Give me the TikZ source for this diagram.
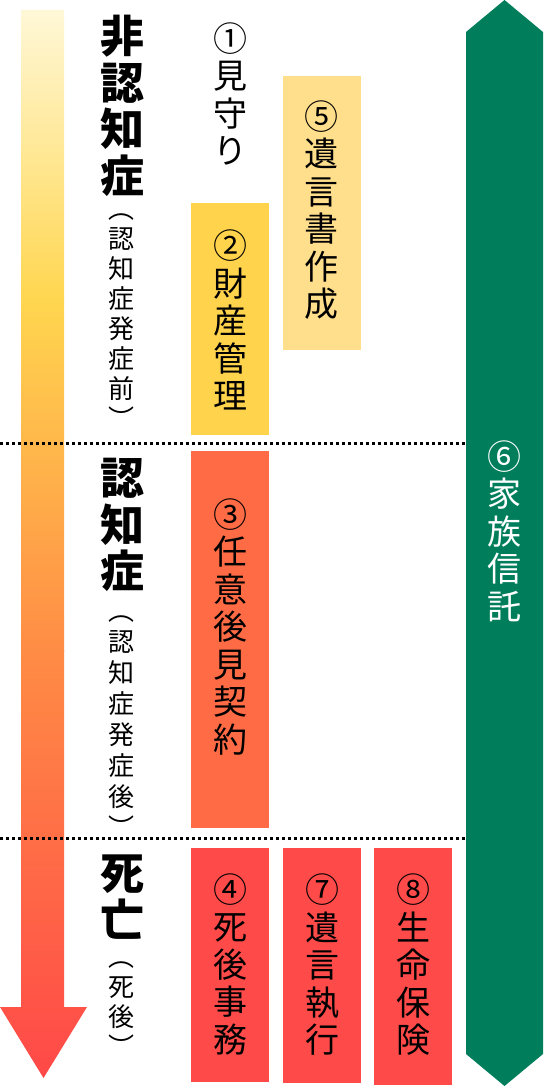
\documentclass[tikz,border=0pt]{standalone}
\usepackage{fontspec}
\newfontfamily\jp{Noto Sans CJK JP}
\definecolor{g0}{HTML}{FFF8D8}
\definecolor{g1}{HTML}{FFD64F}
\definecolor{g2}{HTML}{FF8C45}
\definecolor{g3}{HTML}{FF4848}
\definecolor{cTwo}{HTML}{FFD34B}
\definecolor{cFive}{HTML}{FFDF8C}
\definecolor{cThree}{HTML}{FF6B45}
\definecolor{cRed}{HTML}{FF4A4A}
\definecolor{cGreen}{HTML}{007E5B}
\begin{document}
\begin{tikzpicture}[x=1pt,y=-1pt,
  vtext/.style={align=center,inner sep=0pt,font=\jp\fontsize{34}{37.5}\selectfont},
  boldlabel/.style={align=center,inner sep=0pt,font=\jp\bfseries\fontsize{44}{46.5}\selectfont},
  smalllabel/.style={align=center,inner sep=0pt,font=\jp\fontsize{26}{30}\selectfont},
  stagebox/.style={draw=none,inner sep=0pt,minimum width=78pt},
  dotline/.style={line width=3pt,dash pattern=on 3pt off 3pt}]
\useasboundingbox (0,0) rectangle (544,1086);
% gradient arrow
\begin{scope}
\clip (21,10) -- (64,10) -- (64,1007) -- (87,1007) -- (43.5,1078) -- (0,1007) -- (21,1007) -- cycle;
\shade[top color=g0,bottom color=g1] (0,9) rectangle (90,301);
\shade[top color=g1,bottom color=g2] (0,300) rectangle (90,651);
\shade[top color=g2,bottom color=g3] (0,650) rectangle (90,1080);
\end{scope}
% green arrow
\fill[cGreen] (466,32) -- (504.5,0) -- (543,32) -- (543,1054) -- (504.5,1086) -- (466,1054) -- cycle;
% boxes
\node[stagebox,fill=cTwo,minimum height=232pt] (b2) at (230,319) {};
\node[stagebox,fill=cFive,minimum height=274pt] (b5) at (321.5,213) {};
\node[stagebox,fill=cThree,minimum height=377pt] (b3) at (230,639.5) {};
\node[stagebox,fill=cRed,minimum height=234pt] (b4) at (230,965) {};
\node[stagebox,fill=cRed,minimum height=235pt] (b7) at (322,965.5) {};
\node[stagebox,fill=cRed,minimum height=237pt] (b8) at (413,966.5) {};
% dotted separators
\coordinate (d1l) at (0,443); \coordinate (d1r) at (466,443);
\coordinate (d2l) at (0,838); \coordinate (d2r) at (466,838);
\draw[dotline] (d1l) -- (d1r);
\draw[dotline] (d2l) -- (d2r);
% left labels
\node[boldlabel] (l1) at (122,106) {非\\認\\知\\症};
\node[smalllabel] (p1) at (121,321) {︵\\認\\知\\症\\発\\症\\前\\︶};
\node[boldlabel] (l2) at (122,525) {認\\知\\症};
\node[smalllabel,font=\jp\fontsize{26}{31}\selectfont] (p2) at (121,727) {︵\\認\\知\\症\\発\\症\\後\\︶};
\node[boldlabel] (l3) at (122,897) {死\\亡};
\node[smalllabel] (p3) at (121,1009) {︵\\死\\後\\︶};
% item texts
\node[vtext] (t1) at (230,94) {①\\見\\守\\り};
\node[vtext] (t2) at (230,320) {②\\財\\産\\管\\理};
\node[vtext] (t5) at (321.5,210) {⑤\\遺\\言\\書\\作\\成};
\node[vtext] (t3) at (230,627) {③\\任\\意\\後\\見\\契\\約};
\node[vtext] (t4) at (230,964) {④\\死\\後\\事\\務};
\node[vtext] (t7) at (322,965) {⑦\\遺\\言\\執\\行};
\node[vtext] (t8) at (413,965) {⑧\\生\\命\\保\\険};
\node[vtext,text=white] (t6) at (504,531) {⑥\\家\\族\\信\\託};
\end{tikzpicture}
\end{document}
